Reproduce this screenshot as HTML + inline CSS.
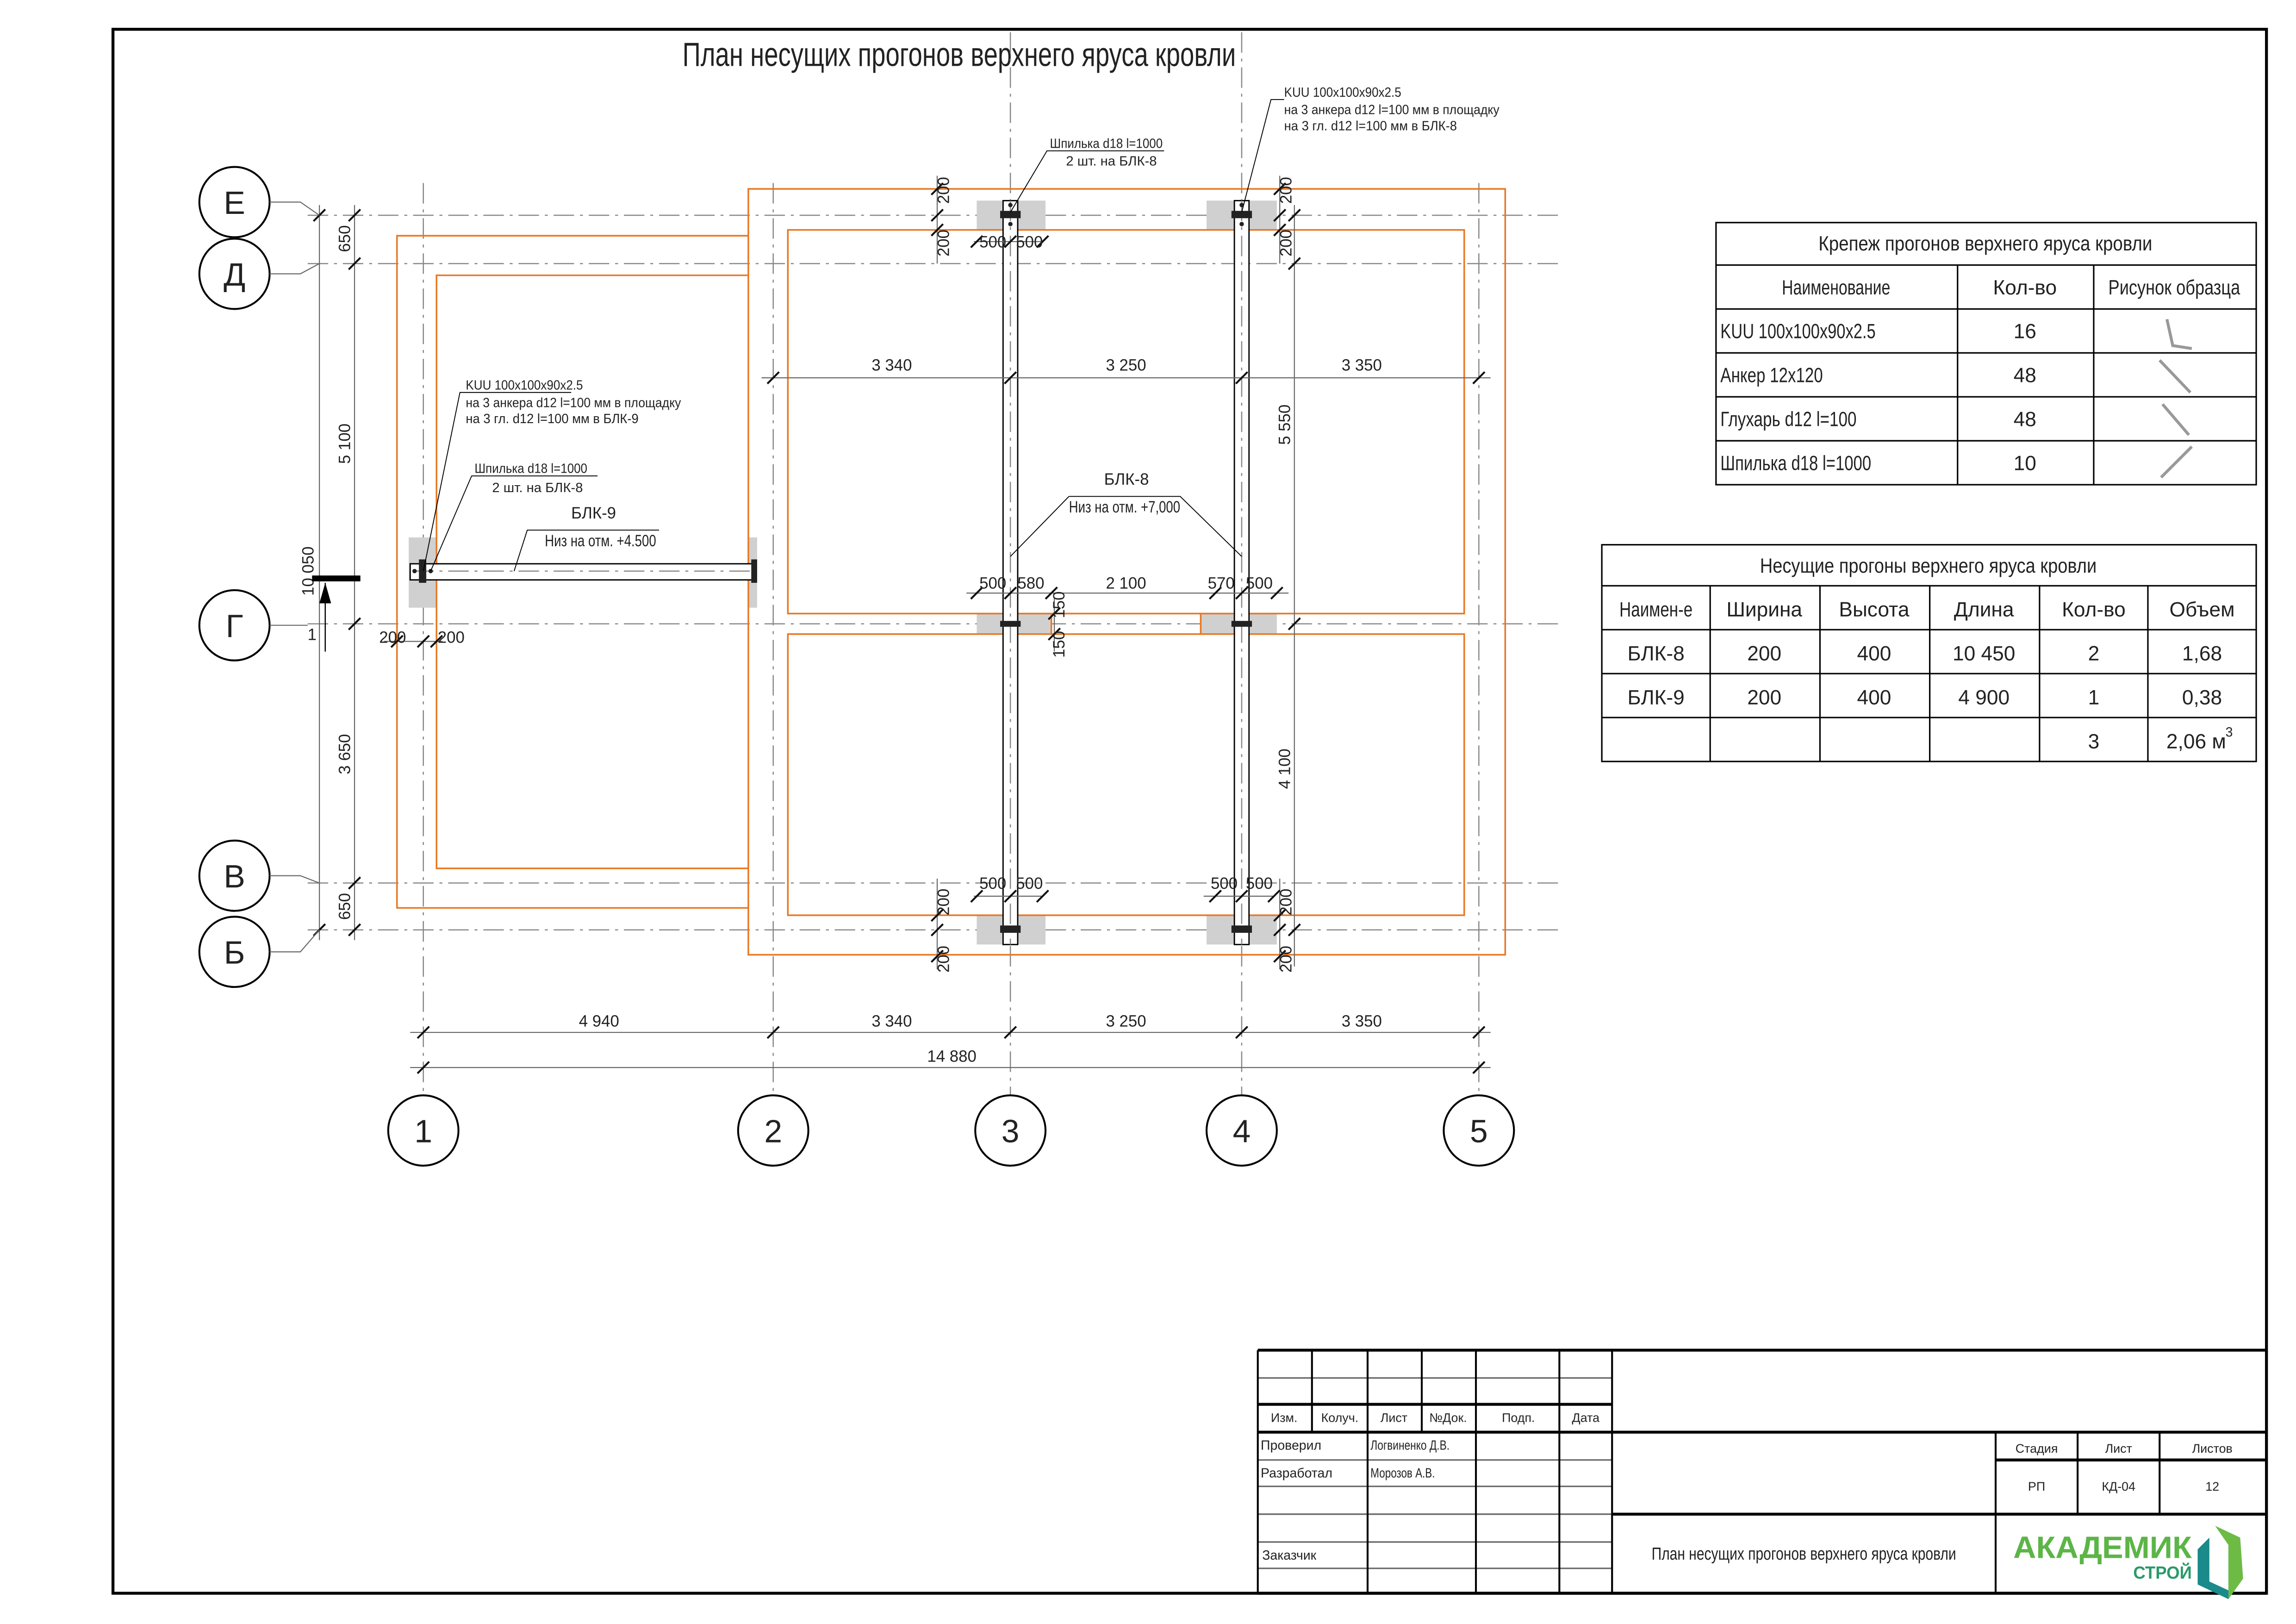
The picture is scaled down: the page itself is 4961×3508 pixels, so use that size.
<!DOCTYPE html>
<html><head><meta charset="utf-8">
<style>
html,body{margin:0;padding:0;background:#fff;}
svg{display:block;}
text{font-family:"Liberation Sans Narrow","Liberation Sans",sans-serif;fill:#222;}
.o{fill:none;stroke:#e87722;stroke-width:1.1}
.ax{stroke:#888;stroke-width:0.8;stroke-dasharray:14 4 2 4;fill:none}
.d{stroke:#666;stroke-width:0.7;fill:none}
.t{stroke:#111;stroke-width:1.3}
.k{stroke:#000;fill:none}
.g{fill:#d0d0d0}
.dt{font-size:11px}
.sm{font-size:9px}
.tb{font-size:14px}
</style></head>
<body>
<svg width="4961" height="3508" viewBox="0 0 1568 1109" xmlns="http://www.w3.org/2000/svg">
<rect x="0" y="0" width="1568" height="1109" fill="#fff"/>
<rect x="77" y="20" width="1471" height="1068" fill="none" stroke="#000" stroke-width="2"/>
<text x="655" y="45" font-size="23" text-anchor="middle" textLength="378" lengthAdjust="spacingAndGlyphs">План несущих прогонов верхнего яруса кровли</text>

<g class="ax">
<line x1="289" y1="125" x2="289" y2="748"/>
<line x1="528" y1="125" x2="528" y2="748"/>
<line x1="690" y1="22" x2="690" y2="748"/>
<line x1="848" y1="22" x2="848" y2="748"/>
<line x1="1010" y1="125" x2="1010" y2="748"/>
<line x1="210" y1="147" x2="1065" y2="147"/>
<line x1="210" y1="180" x2="1065" y2="180"/>
<line x1="210" y1="426" x2="1065" y2="426"/>
<line x1="210" y1="603" x2="1065" y2="603"/>
<line x1="210" y1="635" x2="1065" y2="635"/>
</g>

<g class="g">
<rect x="667" y="137" width="47" height="20"/>
<rect x="824" y="137" width="48" height="20"/>
<rect x="667" y="625" width="47" height="20"/>
<rect x="824" y="625" width="48" height="20"/>
<rect x="667" y="419" width="51" height="14"/>
<rect x="820" y="419" width="52" height="14"/>
<rect x="279" y="367" width="19" height="48"/>
<rect x="511" y="367" width="6" height="48"/>
</g>

<rect class="o" x="511" y="129" width="517" height="523"/>
<rect class="o" x="538" y="157" width="462" height="262"/>
<rect class="o" x="538" y="433" width="462" height="192"/>
<path class="o" d="M511 161 H271 V620 H511 M511 188 H298 V593 H511"/>
<path class="o" d="M718 419 V433 M820 419 V433"/>

<g class="k" stroke-width="0.9">
<rect x="685" y="137" width="10" height="508" fill="#fff"/>
<rect x="843" y="137" width="10" height="508" fill="#fff"/>
<rect x="280" y="385" width="236" height="11" fill="#fff"/>
</g>
<g class="ax"><line x1="690" y1="137" x2="690" y2="645"/><line x1="848" y1="137" x2="848" y2="645"/><line x1="282" y1="390" x2="515" y2="390"/></g>
<g fill="#222">
<rect x="683" y="144" width="14" height="5"/><rect x="841" y="144" width="14" height="5"/>
<rect x="683" y="632" width="14" height="5"/><rect x="841" y="632" width="14" height="5"/>
<rect x="683" y="424" width="14" height="4"/><rect x="841" y="424" width="14" height="4"/>
<rect x="286" y="382" width="5" height="16"/><rect x="513" y="382" width="4" height="16"/>
<circle cx="690" cy="140" r="1.5"/><circle cx="690" cy="153" r="1.5"/>
<circle cx="848" cy="140" r="1.5"/><circle cx="848" cy="153" r="1.5"/>
<circle cx="283" cy="390" r="1.5"/><circle cx="294" cy="390" r="1.5"/>
</g>

<g class="d">
<line x1="280" y1="705" x2="1018" y2="705"/>
<line x1="280" y1="729" x2="1018" y2="729"/>
<line x1="520" y1="258" x2="1018" y2="258"/>
<line x1="660" y1="405" x2="880" y2="405"/>
<line x1="665" y1="165" x2="712" y2="165"/>
<line x1="665" y1="612" x2="712" y2="612"/>
<line x1="822" y1="612" x2="870" y2="612"/>
<line x1="242" y1="140" x2="242" y2="642"/>
<line x1="218" y1="140" x2="218" y2="642"/>
<line x1="884" y1="140" x2="884" y2="660"/>
<line x1="262" y1="438" x2="302" y2="438"/>
<line x1="640" y1="120" x2="640" y2="180"/>
<line x1="874" y1="120" x2="874" y2="180"/>
<line x1="640" y1="600" x2="640" y2="662"/>
<line x1="874" y1="600" x2="874" y2="662"/>
<line x1="720" y1="408" x2="720" y2="445"/>
</g>
<g class="t">
<path d="M285 709 l8 -8 M524 709 l8 -8 M686 709 l8 -8 M844 709 l8 -8 M1006 709 l8 -8"/>
<path d="M285 733 l8 -8 M1006 733 l8 -8"/>
<path d="M524 262 l8 -8 M686 262 l8 -8 M844 262 l8 -8 M1006 262 l8 -8"/>
<path d="M663 409 l8 -8 M686 409 l8 -8 M714 409 l8 -8 M826 409 l8 -8 M844 409 l8 -8 M868 409 l8 -8"/>
<path d="M663 169 l8 -8 M686 169 l8 -8 M708 169 l8 -8"/>
<path d="M663 616 l8 -8 M686 616 l8 -8 M708 616 l8 -8 M826 616 l8 -8 M844 616 l8 -8 M866 616 l8 -8"/>
<path d="M238 151 l8 -8 M238 184 l8 -8 M238 430 l8 -8 M238 607 l8 -8 M238 639 l8 -8"/>
<path d="M214 151 l8 -8 M214 639 l8 -8"/>
<path d="M880 151 l8 -8 M880 184 l8 -8 M880 430 l8 -8 M880 639 l8 -8 M636 133 l8 -8 M636 151 l8 -8 M636 161 l8 -8 M870 133 l8 -8 M870 151 l8 -8 M870 161 l8 -8"/>
<path d="M636 629 l8 -8 M636 639 l8 -8 M636 657 l8 -8 M870 629 l8 -8 M870 639 l8 -8 M870 657 l8 -8"/>
<path d="M285 442 l8 -8 M294 442 l8 -8 M267 442 l8 -8"/>
<path d="M716 423 l8 -8 M716 437 l8 -8"/>
</g>
<g class="dt" text-anchor="middle">
<text x="409" y="701">4 940</text><text x="609" y="701">3 340</text><text x="769" y="701">3 250</text><text x="930" y="701">3 350</text>
<text x="650" y="725">14 880</text>
<text x="609" y="253">3 340</text><text x="769" y="253">3 250</text><text x="930" y="253">3 350</text>
<text x="678" y="402">500</text><text x="704" y="402">580</text><text x="769" y="402">2 100</text><text x="834" y="402">570</text><text x="860" y="402">500</text>
<text x="678" y="169">500</text><text x="703" y="169">500</text>
<text x="678" y="607">500</text><text x="703" y="607">500</text><text x="836" y="607">500</text><text x="860" y="607">500</text>
<text x="268" y="439">200</text><text x="308" y="439">200</text>
<text x="213" y="437">1</text>
<text transform="translate(239,163) rotate(-90)">650</text>
<text transform="translate(239,303) rotate(-90)">5 100</text>
<text transform="translate(239,515) rotate(-90)">3 650</text>
<text transform="translate(239,619) rotate(-90)">650</text>
<text transform="translate(214,390) rotate(-90)">10 050</text>
<text transform="translate(881,290) rotate(-90)">5 550</text>
<text transform="translate(881,525) rotate(-90)">4 100</text>
<text transform="translate(648,130) rotate(-90)">200</text>
<text transform="translate(648,166) rotate(-90)">200</text>
<text transform="translate(882,130) rotate(-90)">200</text>
<text transform="translate(882,166) rotate(-90)">200</text>
<text transform="translate(648,616) rotate(-90)">200</text>
<text transform="translate(648,655) rotate(-90)">200</text>
<text transform="translate(882,616) rotate(-90)">200</text>
<text transform="translate(882,655) rotate(-90)">200</text>
<text transform="translate(727,413) rotate(-90)">150</text>
<text transform="translate(727,440) rotate(-90)">150</text>
</g>
<rect x="213" y="393" width="33" height="4" fill="#000"/>
<line x1="222" y1="398" x2="222" y2="445" stroke="#000" stroke-width="0.8"/>
<path d="M218 412 L222 398 L226 412 Z" fill="#000"/>

<g fill="#fff" stroke="#000" stroke-width="1.3">
<circle cx="289" cy="772" r="24"/><circle cx="528" cy="772" r="24"/><circle cx="690" cy="772" r="24"/><circle cx="848" cy="772" r="24"/><circle cx="1010" cy="772" r="24"/>
<circle cx="160" cy="138" r="24"/><circle cx="160" cy="187" r="24"/><circle cx="160" cy="427" r="24"/><circle cx="160" cy="598" r="24"/><circle cx="160" cy="650" r="24"/>
</g>
<g class="d"><path d="M184 138 H205 L218 147 M184 187 H205 L218 180 M184 598 H205 L218 603 M184 650 H205 L218 635 M184 427 H210"/></g>
<g font-size="22" text-anchor="middle">
<text x="289" y="780">1</text><text x="528" y="780">2</text><text x="690" y="780">3</text><text x="848" y="780">4</text><text x="1010" y="780">5</text>
<text x="160" y="146">Е</text><text x="160" y="195">Д</text><text x="160" y="435">Г</text><text x="160" y="606">В</text><text x="160" y="658">Б</text>
</g>

<g stroke="#000" stroke-width="0.6" fill="none">
<path d="M795 103 H715 L690 145"/>
<path d="M877 68 H868 L848 145"/>
<path d="M390 268 H314 L289 390"/>
<path d="M408 325 H322 L294 390"/>
<path d="M450 362 H360 L351 390"/>
<path d="M730 339 H806 L848 380 M730 339 L690 380"/>
</g>
<g class="sm">
<text x="717" y="101" textLength="77" lengthAdjust="spacingAndGlyphs">Шпилька d18 l=1000</text>
<text x="728" y="113" textLength="62" lengthAdjust="spacingAndGlyphs">2 шт. на БЛК-8</text>
<text x="877" y="66" textLength="80" lengthAdjust="spacingAndGlyphs">KUU 100x100x90x2.5</text>
<text x="877" y="78" textLength="147" lengthAdjust="spacingAndGlyphs">на 3 анкера d12 l=100 мм в площадку</text>
<text x="877" y="89" textLength="118" lengthAdjust="spacingAndGlyphs">на 3 гл. d12 l=100 мм в БЛК-8</text>
<text x="318" y="266" textLength="80" lengthAdjust="spacingAndGlyphs">KUU 100x100x90x2.5</text>
<text x="318" y="278" textLength="147" lengthAdjust="spacingAndGlyphs">на 3 анкера d12 l=100 мм в площадку</text>
<text x="318" y="289" textLength="118" lengthAdjust="spacingAndGlyphs">на 3 гл. d12 l=100 мм в БЛК-9</text>
<text x="324" y="323" textLength="77" lengthAdjust="spacingAndGlyphs">Шпилька d18 l=1000</text>
<text x="336" y="336" textLength="62" lengthAdjust="spacingAndGlyphs">2 шт. на БЛК-8</text>
</g>
<g class="dt">
<text x="390" y="354">БЛК-9</text>
<text x="372" y="373" textLength="76" lengthAdjust="spacingAndGlyphs">Низ на отм. +4.500</text>
<text x="754" y="331">БЛК-8</text>
<text x="730" y="350" textLength="76" lengthAdjust="spacingAndGlyphs">Низ на отм. +7,000</text>
</g>

<g stroke="#000" stroke-width="1" fill="none">
<rect x="1172" y="152" width="369" height="179"/>
<path d="M1172 181 H1541 M1172 211 H1541 M1172 241 H1541 M1172 271 H1541 M1172 301 H1541 M1337 181 V331 M1430 181 V331"/>
<rect x="1094" y="372" width="447" height="148"/>
<path d="M1094 400 H1541 M1094 430 H1541 M1094 460 H1541 M1094 490 H1541 M1168 400 V520 M1243 400 V520 M1318 400 V520 M1393 400 V520 M1467 400 V520"/>
</g>
<g class="tb">
<text x="1356" y="171" text-anchor="middle" textLength="228" lengthAdjust="spacingAndGlyphs">Крепеж прогонов верхнего яруса кровли</text>
<text x="1254" y="201" text-anchor="middle" textLength="74" lengthAdjust="spacingAndGlyphs">Наименование</text>
<text x="1383" y="201" text-anchor="middle">Кол-во</text>
<text x="1485" y="201" text-anchor="middle" textLength="90" lengthAdjust="spacingAndGlyphs">Рисунок образца</text>
<text x="1175" y="231" textLength="106" lengthAdjust="spacingAndGlyphs">KUU 100x100x90x2.5</text><text x="1383" y="231" text-anchor="middle">16</text>
<text x="1175" y="261" textLength="70" lengthAdjust="spacingAndGlyphs">Анкер 12x120</text><text x="1383" y="261" text-anchor="middle">48</text>
<text x="1175" y="291" textLength="93" lengthAdjust="spacingAndGlyphs">Глухарь d12 l=100</text><text x="1383" y="291" text-anchor="middle">48</text>
<text x="1175" y="321" textLength="103" lengthAdjust="spacingAndGlyphs">Шпилька d18 l=1000</text><text x="1383" y="321" text-anchor="middle">10</text>
<text x="1317" y="391" text-anchor="middle" textLength="230" lengthAdjust="spacingAndGlyphs">Несущие прогоны верхнего яруса кровли</text>
<g text-anchor="middle">
<text x="1131" y="421" textLength="50" lengthAdjust="spacingAndGlyphs">Наимен-е</text><text x="1205" y="421">Ширина</text><text x="1280" y="421">Высота</text><text x="1355" y="421">Длина</text><text x="1430" y="421">Кол-во</text><text x="1504" y="421">Объем</text>
<text x="1131" y="451">БЛК-8</text><text x="1205" y="451">200</text><text x="1280" y="451">400</text><text x="1355" y="451">10 450</text><text x="1430" y="451">2</text><text x="1504" y="451">1,68</text>
<text x="1131" y="481">БЛК-9</text><text x="1205" y="481">200</text><text x="1280" y="481">400</text><text x="1355" y="481">4 900</text><text x="1430" y="481">1</text><text x="1504" y="481">0,38</text>
<text x="1430" y="511">3</text><text x="1500" y="511">2,06 м</text>
</g>
<text x="1520" y="503" font-size="9">3</text>
</g>
<g stroke="#999" stroke-width="2" fill="none">
<path d="M1480 218 L1484 236 L1497 238"/>
<path d="M1475 246 L1496 268"/>
<path d="M1477 276 L1495 297"/>
<path d="M1476 326 L1497 305"/>
</g>

<g stroke="#000" fill="none">
<path d="M859 922 H1548 M859 959 H1101 M859 978 H1548 M1101 1034 H1548 M1363 997 H1548 M859 1088 H1548" stroke-width="2"/>
<path d="M859 941 H1101 M859 997 H1101 M859 1015 H1101 M859 1034 H1101 M859 1053 H1101 M859 1071 H1101" stroke="#666" stroke-width="1"/>
<path d="M859 922 V1088 M934 922 V1088 M1008 922 V1088 M1065 922 V1088 M1101 922 V1088 M896 922 V978 M971 922 V978 M1363 978 V1088 M1419 978 V1034 M1475 978 V1034" stroke-width="1.3"/>
</g>
<g font-size="8.5" text-anchor="middle">
<text x="877" y="971">Изм.</text><text x="915" y="971">Колуч.</text><text x="952" y="971">Лист</text><text x="989" y="971">№Док.</text><text x="1037" y="971">Подп.</text><text x="1083" y="971">Дата</text>
<text x="1391" y="992">Стадия</text><text x="1447" y="992">Лист</text><text x="1511" y="992">Листов</text>
<text x="1391" y="1018">РП</text><text x="1447" y="1018">КД-04</text><text x="1511" y="1018">12</text>
</g>
<g font-size="9">
<text x="861" y="990">Проверил</text><text x="936" y="990" textLength="54" lengthAdjust="spacingAndGlyphs">Логвиненко Д.В.</text>
<text x="861" y="1009">Разработал</text><text x="936" y="1009" textLength="44" lengthAdjust="spacingAndGlyphs">Морозов А.В.</text>
<text x="862" y="1065">Заказчик</text>
</g>
<text x="1232" y="1065" font-size="12" text-anchor="middle" textLength="208" lengthAdjust="spacingAndGlyphs">План несущих прогонов верхнего яруса кровли</text>
<text x="1375" y="1064" font-size="21" font-weight="bold" style="fill:#5cb547" textLength="122" lengthAdjust="spacingAndGlyphs">АКАДЕМИК</text>
<text x="1457" y="1078" font-size="12" font-weight="bold" style="fill:#2a9a6a" textLength="40" lengthAdjust="spacingAndGlyphs">СТРОЙ</text>
<path d="M1501 1058 L1509 1050 L1509 1080 L1522 1086 L1522 1055 L1513 1042 L1530 1050 L1532 1078 L1522 1092 L1501 1082 Z" fill="#1a8a8a"/>
<path d="M1513 1042 L1530 1050 L1532 1078 L1522 1092 L1522 1055 Z" fill="#6dbb45"/>
</svg>
</body></html>
